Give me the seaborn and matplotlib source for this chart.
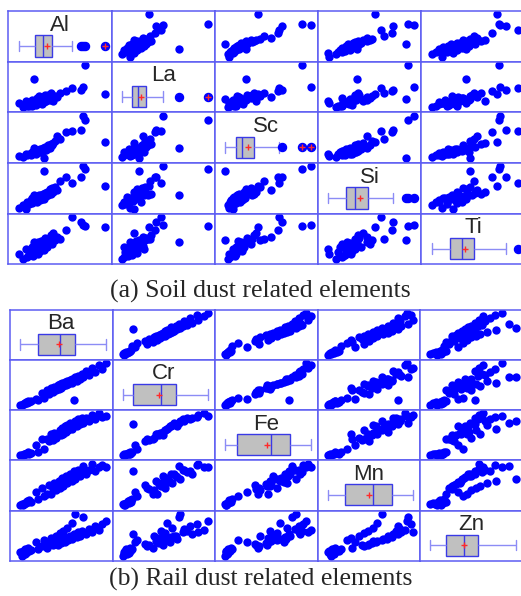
import numpy as np
import pandas as pd
import seaborn as sns
import matplotlib.pyplot as plt

# (a) soil dust related elements, relative concentrations read off the matrix
al = [0, 5, 8, 10, 12, 14, 15, 16, 17, 19, 20, 21, 22, 23, 24, 25, 26, 27, 28, 28,
      29, 31, 32, 33, 34, 36, 38, 39, 40, 42, 45, 48, 100, 77, 75, 72, 18, 30, 62, 55]
la = [9, 0, 14, 2, 4, 12, 3, 18, 7, 13, 6, 22, 10, 9, 26, 13, 16, 8, 24, 19,
      12, 28, 15, 20, 30, 17, 34, 23, 14, 27, 25, 33, 31, 100, 48, 40, 66, 20, 45, 38]
sc = [5, 3, 9, 6, 10, 7, 13, 9, 11, 16, 10, 17, 13, 18, 14, 20, 15, 21, 16, 23,
      18, 25, 19, 22, 31, 24, 33, 30, 36, 40, 53, 45, 38, 89, 100, 66, 24, 0, 63, 61]
si = [4, 12, 3, 18, 14, 22, 16, 27, 19, 20, 30, 18, 28, 24, 33, 23, 34, 26, 36, 27,
      25, 38, 31, 40, 33, 47, 36, 50, 42, 52, 46, 66, 55, 93, 100, 76, 35, 90, 62, 75]
ti = [12, 0, 25, 5, 18, 9, 30, 15, 8, 28, 20, 35, 13, 40, 24, 19, 44, 27, 31, 38,
      22, 50, 33, 29, 47, 41, 57, 36, 62, 45, 53, 49, 76, 78, 80, 87, 40, 45, 100, 70]

# (b) rail dust related elements
ba = [0, 2, 3, 4, 5, 6, 7, 8, 9, 10, 12, 18, 21, 25, 28, 31, 34, 36, 38, 40, 42, 44, 45, 46,
      48, 49, 50, 52, 53, 55, 56, 58, 60, 61, 63, 64, 66, 68, 70, 72, 74, 77, 80, 84, 88, 92, 96, 100]
cr = [1, 0, 3, 2, 5, 4, 7, 6, 9, 8, 10, 14, 11, 28, 17, 35, 26, 40, 31, 44, 36, 47, 39, 50,
      42, 53, 45, 55, 47, 58, 50, 60, 52, 63, 12, 67, 57, 70, 62, 75, 66, 81, 72, 88, 79, 95, 87, 100]
fe = [1, 0, 1, 2, 2, 3, 3, 5, 7, 4, 6, 25, 8, 40, 15, 38, 35, 50, 36, 54, 41, 49, 52, 61,
      48, 65, 52, 69, 56, 72, 60, 76, 64, 71, 75, 83, 70, 86, 74, 90, 78, 88, 82, 97, 86, 100, 91, 95]
mn = [0, 4, 2, 3, 7, 5, 6, 11, 8, 13, 9, 32, 15, 42, 22, 28, 48, 27, 40, 53, 36, 47, 58, 42,
      52, 65, 47, 57, 70, 53, 63, 75, 58, 69, 82, 64, 75, 86, 70, 80, 94, 76, 85, 100, 82, 91, 97, 93]
zn = [8, 0, 12, 5, 3, 15, 7, 10, 19, 11, 14, 32, 16, 22, 38, 18, 28, 43, 25, 35, 48, 26, 36, 54,
      30, 40, 58, 33, 45, 66, 37, 47, 77, 41, 52, 100, 44, 56, 48, 60, 92, 52, 64, 57, 70, 62, 76, 84]

soil = pd.DataFrame({'Al': al, 'La': la, 'Sc': sc, 'Si': si, 'Ti': ti})
rail = pd.DataFrame({'Ba': ba, 'Cr': cr, 'Fe': fe, 'Mn': mn, 'Zn': zn})

W, H = 521, 596
GRID = '#5c5cf2'
DOT = '#0000ff'


def lims(v):
    lo, hi = min(v), max(v)
    r = hi - lo
    return lo - 0.12 * r, hi + 0.08 * r


def draw_matrix(fig, df, left, top, cw, ch):
    cols = list(df.columns)
    for i, yv in enumerate(cols):
        for j, xv in enumerate(cols):
            ax = fig.add_axes([(left + j * cw) / W, 1 - (top + (i + 1) * ch) / H, cw / W, ch / H])
            if i == j:
                sns.boxplot(x=df[xv], ax=ax, orient='h', width=0.8, color='#c0c0c0',
                            linecolor='#3a3ae6', linewidth=1.0, fliersize=5.8,
                            showmeans=True,
                            meanprops=dict(marker='+', markeredgecolor='#ff2a2a',
                                           markersize=5, markeredgewidth=1.0),
                            whiskerprops=dict(color='#8c8cf5', linewidth=1.0),
                            capprops=dict(color='#8c8cf5', linewidth=1.0),
                            flierprops=dict(marker='o', markerfacecolor=DOT,
                                            markeredgecolor=DOT))
                q1, q3 = np.percentile(df[xv], [25, 75])
                far = [v for v in df[xv] if v > q3 + 2.5 * (q3 - q1)]
                ax.plot(far, [0] * len(far), '+', color='#ff2a2a', ms=4, mew=1.0)
                ax.set_ylim(-0.59, 1.31)
                ax.text(0.5, 0.72, xv, transform=ax.transAxes, ha='center', va='center',
                        fontsize=16, family='Liberation Sans')
            else:
                sns.scatterplot(x=df[xv], y=df[yv], ax=ax, color=DOT, s=36, linewidth=0)
                ax.set_ylim(*lims(df[yv]))
            ax.set_xlim(*lims(df[xv]))
            ax.set_xticks([])
            ax.set_yticks([])
            ax.set_xlabel('')
            ax.set_ylabel('')
            for s in ax.spines.values():
                s.set_color(GRID)
                s.set_linewidth(1.1)


sns.set_theme(style='white')
plt.rcParams['font.family'] = ['Liberation Sans', 'DejaVu Sans']

fig = plt.figure(figsize=(W / 100, H / 100), dpi=100, facecolor='white')
draw_matrix(fig, soil, 8.3, 11, 103.25, 50.65)
draw_matrix(fig, rail, 10, 309.7, 102.5, 50.2)

fig.text(0.5, 1 - 291 / H, '(a) Soil dust related elements', ha='center', va='center',
         fontsize=18.5, family='Liberation Serif')
fig.text(0.5, 1 - 579 / H, '(b) Rail dust related elements', ha='center', va='center',
         fontsize=18.5, family='Liberation Serif')

fig.savefig('out.png', dpi=100, facecolor='white')
